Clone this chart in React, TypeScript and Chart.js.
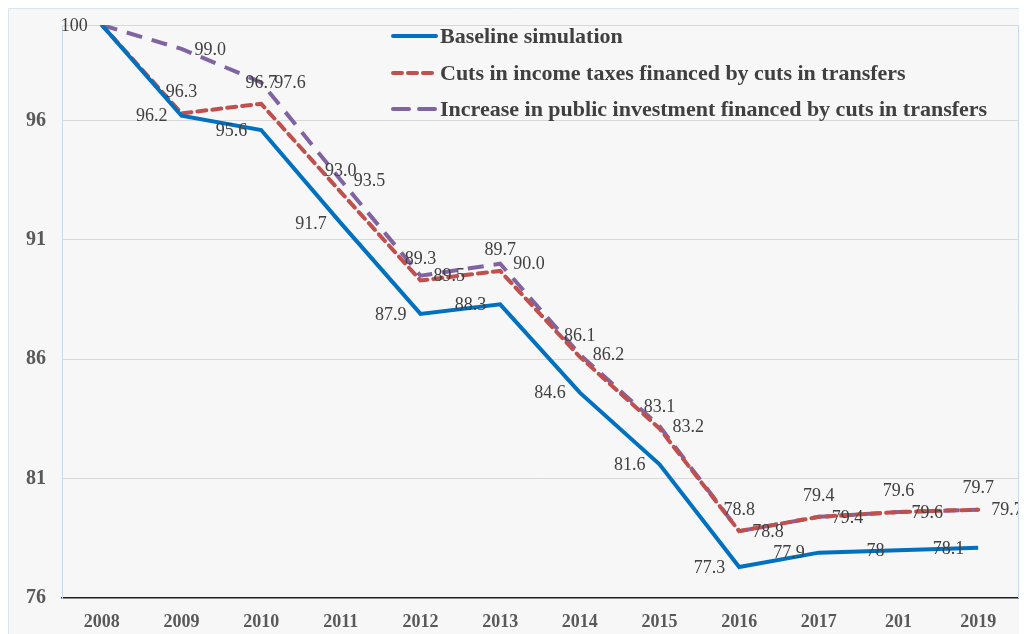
import React, { useEffect, useRef } from "react";
import { Chart, registerables } from "chart.js";

Chart.register(...registerables);

const years = ["2008", "2009", "2010", "2011", "2012", "2013", "2014", "2015", "2016", "2017", "201", "2019"];
const baseline = [100, 96.2, 95.6, 91.7, 87.9, 88.3, 84.6, 81.6, 77.3, 77.9, 78, 78.1];
const taxCuts = [100, 96.3, 96.7, 93.0, 89.3, 89.7, 86.1, 83.1, 78.8, 79.4, 79.6, 79.7];
const publicInvestment = [100, 99.0, 97.6, 93.5, 89.5, 90.0, 86.2, 83.2, 78.8, 79.4, 79.6, 79.7];
const yTicks = [76, 81, 86, 91, 96, 100];
const seriesNames = [
  "Baseline simulation",
  "Cuts in income taxes financed by cuts in transfers",
  "Increase in public investment financed by cuts in transfers",
];

const FONT = "'Liberation Serif', 'Times New Roman', serif";
const LABEL_COLOR = "#404040";

const bgPlugin = {
  id: "bgPlugin",
  beforeDraw(chart: any) {
    const { ctx, width, height } = chart;
    ctx.save();
    ctx.fillStyle = "#f7f7f7";
    ctx.fillRect(0, 0, width, height);
    ctx.strokeStyle = "#dce4ee";
    ctx.lineWidth = 1;
    ctx.beginPath();
    ctx.moveTo(0.5, height);
    ctx.lineTo(0.5, 0.5);
    ctx.lineTo(width, 0.5);
    ctx.stroke();
    ctx.restore();
  },
  afterDraw(chart: any) {
    const { ctx, chartArea } = chart;
    ctx.save();
    ctx.strokeStyle = "#c9daf0";
    ctx.lineWidth = 1;
    ctx.beginPath();
    ctx.moveTo(Math.round(chartArea.right) + 0.5, chartArea.top);
    ctx.lineTo(Math.round(chartArea.right) + 0.5, chartArea.bottom);
    ctx.stroke();
    ctx.restore();
  },
};

const dataLabelPlugin = {
  id: "dataLabelPlugin",
  afterDatasetsDraw(chart: any) {
    const { ctx } = chart;
    ctx.save();
    ctx.font = `18px ${FONT}`;
    ctx.fillStyle = LABEL_COLOR;
    chart.data.datasets.forEach((ds: any, di: number) => {
      const meta = chart.getDatasetMeta(di);
      meta.data.forEach((pt: any, i: number) => {
        const v = ds.data[i];
        if (di === 0) {
          ctx.textAlign = "right";
          ctx.textBaseline = "middle";
          ctx.fillText(String(v), pt.x - 14, pt.y + 1);
        } else if (i > 0) {
          const txt = v.toFixed(1);
          if (di === 1) {
            ctx.textAlign = "center";
            ctx.textBaseline = "middle";
            ctx.fillText(txt, pt.x, pt.y - 21);
          } else {
            ctx.textAlign = "left";
            ctx.textBaseline = "middle";
            ctx.fillText(txt, pt.x + 13, pt.y + 1);
          }
        }
      });
    });
    ctx.restore();
  },
};

const legendPlugin = {
  id: "customLegend",
  afterDraw(chart: any) {
    const { ctx } = chart;
    ctx.save();
    ctx.font = `bold 22px ${FONT}`;
    ctx.textAlign = "left";
    ctx.textBaseline = "middle";
    const x0 = 385;
    const x1 = 428;
    const ys = [28, 65, 101];
    chart.data.datasets.forEach((ds: any, i: number) => {
      const y = ys[i];
      ctx.strokeStyle = ds.borderColor;
      ctx.lineWidth = 4;
      ctx.lineCap = "round";
      ctx.setLineDash(ds.borderDash || []);
      ctx.beginPath();
      ctx.moveTo(x0, y);
      ctx.lineTo(x1, y);
      ctx.stroke();
      ctx.setLineDash([]);
      ctx.fillStyle = LABEL_COLOR;
      ctx.fillText(ds.label, x1 + 4, y + 1);
    });
    ctx.restore();
  },
};

export default function App() {
  const canvasRef = useRef<HTMLCanvasElement | null>(null);

  useEffect(() => {
    document.documentElement.style.overflow = "hidden";
    const canvas = canvasRef.current;
    if (!canvas) return;
    const chart = new Chart(canvas, {
      type: "line",
      data: {
        labels: years,
        datasets: [
          {
            label: seriesNames[0],
            data: baseline,
            borderColor: "#0070c0",
            borderWidth: 4,
            pointRadius: 0,
            tension: 0,
            fill: false,
          },
          {
            label: seriesNames[1],
            data: taxCuts,
            borderColor: "#c0504d",
            borderWidth: 4,
            borderDash: [9, 6],
            borderCapStyle: "round",
            pointRadius: 0,
            tension: 0,
            fill: false,
          },
          {
            label: seriesNames[2],
            data: publicInvestment,
            borderColor: "#8064a2",
            borderWidth: 4,
            borderDash: [16, 10],
            pointRadius: 0,
            tension: 0,
            fill: false,
          },
        ] as any,
      },
      options: {
        animation: false,
        responsive: false,
        maintainAspectRatio: false,
        layout: { padding: { top: 17, right: 9, left: 0, bottom: 0 } },
        plugins: {
          legend: { display: false },
          tooltip: { enabled: false },
        },
        scales: {
          x: {
            offset: true,
            grid: { display: false, drawTicks: false },
            border: { display: true, color: "#1f1f1f", width: 1.5 },
            ticks: {
              color: "#595959",
              font: { family: FONT, size: 18, weight: "bold" },
              padding: 14,
              maxRotation: 0,
              autoSkip: false,
            },
            afterFit(scale: any) {
              scale.height = 36;
              scale.paddingLeft = 0;
              scale.paddingRight = 0;
            },
          },
          y: {
            min: 76,
            max: 100,
            afterBuildTicks(scale: any) {
              scale.ticks = yTicks.map((v) => ({ value: v }));
            },
            grid: {
              drawTicks: false,
              color: (c: any) => {
                const v = c.tick && c.tick.value;
                if (v === 100) return "#c9daf0";
                if (v === 76) return "rgba(0,0,0,0)";
                return "#d9d9d9";
              },
              lineWidth: 1,
            },
            border: { display: true, color: "#c9daf0", width: 1 },
            ticks: {
              color: "#595959",
              font: { family: FONT, size: 20, weight: "bold" },
              padding: 16,
              callback: (v: any) => (v === 100 ? "" : String(v)),
            },
            afterFit(scale: any) {
              scale.width = 54;
              scale.paddingTop = 0;
              scale.paddingBottom = 0;
            },
          },
        },
      } as any,
      plugins: [bgPlugin, dataLabelPlugin, legendPlugin],
    });
    return () => chart.destroy();
  }, []);

  return (
    <div style={{ width: 1019, height: 626 }}>
      <canvas ref={canvasRef} width={1019} height={626} style={{ display: "block" }} />
    </div>
  );
}
